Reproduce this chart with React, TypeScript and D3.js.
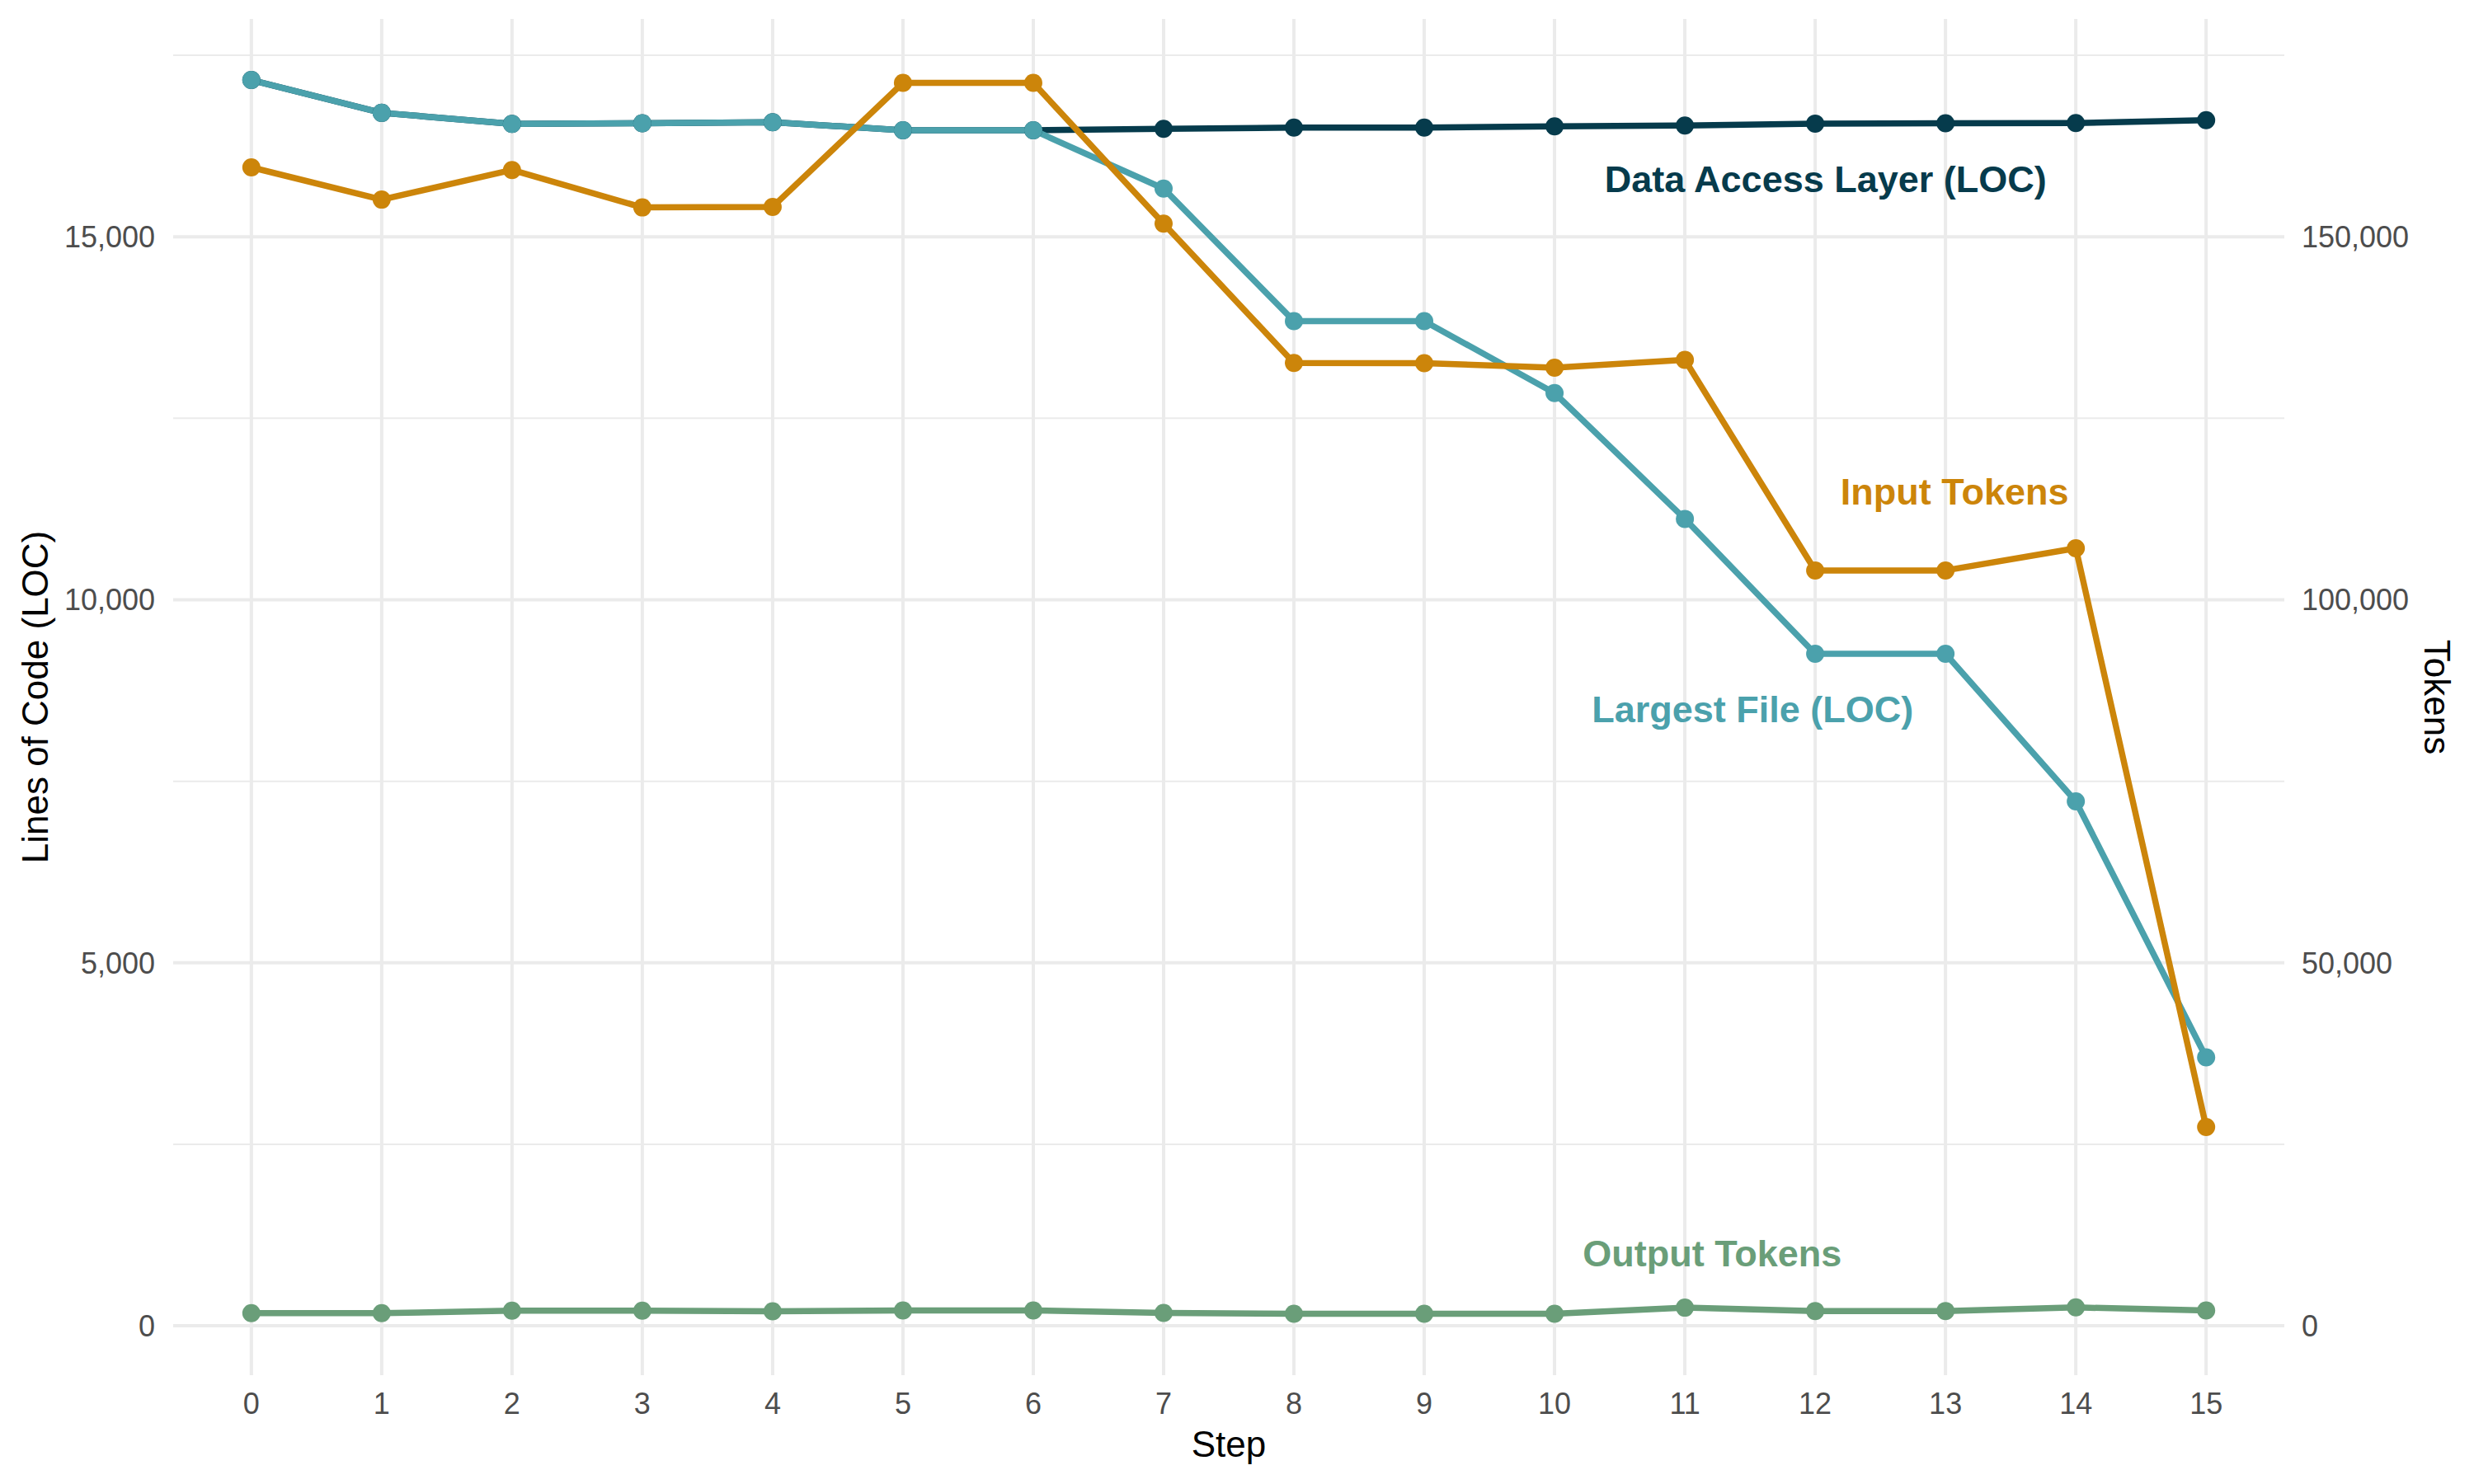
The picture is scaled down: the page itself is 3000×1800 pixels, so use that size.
import React, { useEffect } from "react";
import { scaleLinear, line, format } from "d3";

// steps 0..15
const steps = [0, 1, 2, 3, 4, 5, 6, 7, 8, 9, 10, 11, 12, 13, 14, 15];

// left axis (LOC)
const dataAccessLoc = [17159, 16707, 16555, 16563, 16577, 16468, 16468, 16486, 16503, 16503, 16520, 16533, 16559, 16563, 16567, 16607];
const largestFileLoc = [17159, 16707, 16555, 16563, 16577, 16468, 16468, 15664, 13839, 13839, 12848, 11114, 9256, 9256, 7223, 3697];

// right axis (tokens)
const inputTokens = [159560, 155120, 159200, 154040, 154120, 171200, 171200, 151810, 132620, 132600, 131960, 133040, 104040, 104040, 107100, 27390];
const outputTokens = [1740, 1740, 2090, 2090, 2000, 2120, 2120, 1780, 1670, 1670, 1670, 2500, 2040, 2040, 2530, 2120];

const tokenRatio = 10;

const leftTicks = [0, 5000, 10000, 15000];
const minorTicks = [2500, 7500, 12500, 17500];
const rightTicks = [0, 50000, 100000, 150000];

const series = [
  { name: "Data Access Layer (LOC)", values: dataAccessLoc, color: "#063B4C", label: { x: 12.08, y: 15800 } },
  { name: "Largest File (LOC)", values: largestFileLoc, color: "#4BA1AC", label: { x: 11.52, y: 8500 } },
  { name: "Input Tokens", values: inputTokens.map((v) => v / tokenRatio), color: "#CC850A", label: { x: 13.07, y: 11500 } },
  { name: "Output Tokens", values: outputTokens.map((v) => v / tokenRatio), color: "#6A9E79", label: { x: 11.21, y: 1000 } },
];

const W = 3000;
const H = 1800;
const panel = { left: 210, right: 2770, top: 23, bottom: 1668 };
const font = "'Liberation Sans', Arial, Helvetica, sans-serif";
const grid = "#EBEBEB";

export default function App() {
  useEffect(() => {
    document.body.style.margin = "0";
  }, []);

  const x = scaleLinear().domain([-0.6, 15.6]).range([panel.left, panel.right]);
  const y = scaleLinear().domain([-680, 18000]).range([panel.bottom, panel.top]);
  const fmt = format(",");

  const path = line<number>()
    .x((_, i) => x(steps[i]))
    .y((d) => y(d));

  return (
    <svg width={W} height={H} viewBox={`0 0 ${W} ${H}`} style={{ display: "block", background: "#fff" }} fontFamily={font}>
      {/* grid */}
      {minorTicks.map((t) => (
        <line key={"mn" + t} x1={panel.left} x2={panel.right} y1={y(t)} y2={y(t)} stroke={grid} strokeWidth={2} />
      ))}
      {leftTicks.map((t) => (
        <line key={"mj" + t} x1={panel.left} x2={panel.right} y1={y(t)} y2={y(t)} stroke={grid} strokeWidth={4} />
      ))}
      {steps.map((s) => (
        <line key={"v" + s} x1={x(s)} x2={x(s)} y1={panel.top} y2={panel.bottom} stroke={grid} strokeWidth={4} />
      ))}

      {/* lines */}
      {series.map((s) => (
        <path key={s.name} d={path(s.values) ?? ""} fill="none" stroke={s.color} strokeWidth={7.5} strokeLinejoin="round" />
      ))}
      {series.map((s) => (
        <g key={s.name + "pts"} fill={s.color}>
          {s.values.map((v, i) => (
            <circle key={i} cx={x(steps[i])} cy={y(v)} r={11} />
          ))}
        </g>
      ))}

      {/* direct labels */}
      {series.map((s) => (
        <text
          key={s.name + "lbl"}
          x={x(s.label.x)}
          y={y(s.label.y)}
          dy="0.36em"
          textAnchor="middle"
          fontWeight="bold"
          fontSize={45}
          fill={s.color}
        >
          {s.name}
        </text>
      ))}

      {/* left axis */}
      {leftTicks.map((t) => (
        <text key={"lt" + t} x={panel.left - 22} y={y(t)} dy="0.36em" textAnchor="end" fontSize={36} fill="#4D4D4D">
          {fmt(t)}
        </text>
      ))}
      {/* right axis */}
      {rightTicks.map((t) => (
        <text key={"rt" + t} x={panel.right + 21} y={y(t / tokenRatio)} dy="0.36em" textAnchor="start" fontSize={36} fill="#4D4D4D">
          {fmt(t)}
        </text>
      ))}
      {/* bottom axis */}
      {steps.map((s) => (
        <text key={"bt" + s} x={x(s)} y={1715} textAnchor="middle" fontSize={36} fill="#4D4D4D">
          {s}
        </text>
      ))}

      {/* axis titles */}
      <text x={(panel.left + panel.right) / 2} y={1767} textAnchor="middle" fontSize={44} fill="#000">
        Step
      </text>
      <text
        transform={`translate(42,${(panel.top + panel.bottom) / 2}) rotate(-90)`}
        dy="0.36em"
        textAnchor="middle"
        fontSize={44}
        fill="#000"
      >
        Lines of Code (LOC)
      </text>
      <text
        transform={`translate(2956,${(panel.top + panel.bottom) / 2}) rotate(90)`}
        dy="0.36em"
        textAnchor="middle"
        fontSize={44}
        fill="#000"
      >
        Tokens
      </text>
    </svg>
  );
}
